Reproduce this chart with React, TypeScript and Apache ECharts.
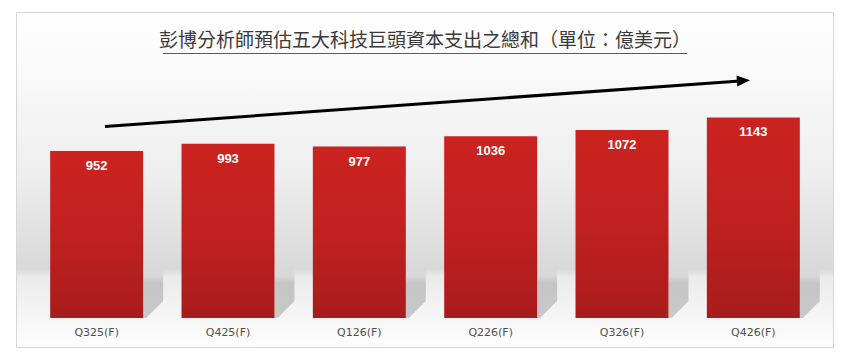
import React, { useEffect, useRef } from "react";
import * as echarts from "echarts";

const TITLE = "彭博分析師預估五大科技巨頭資本支出之總和（單位：億美元）";
const categories = ["Q325(F)", "Q425(F)", "Q126(F)", "Q226(F)", "Q326(F)", "Q426(F)"];
const capexValues = [952, 993, 977, 1036, 1072, 1143];
const yMin = 0;
const yMax = 1200;

export default function App() {
  const ref = useRef<HTMLDivElement>(null);
  useEffect(() => {
    if (!ref.current) return;
    const chart = echarts.init(ref.current, null, { renderer: "svg" });
    const barRatio = 93 / 131.4;
    const option: any = {
      animation: false,
      backgroundColor: "#ffffff",
      grid: { left: 31, right: 31, top: 107.5, bottom: 40 },
      xAxis: {
        type: "category",
        data: categories,
        axisLine: { show: false },
        axisTick: { show: false },
        axisLabel: {
          color: "#505050",
          fontFamily: "DejaVu Sans",
          fontSize: 11,
          margin: 9,
        },
      },
      yAxis: {
        type: "value",
        min: yMin,
        max: yMax,
        show: false,
        splitLine: { show: false },
      },
      graphic: [
        {
          type: "rect",
          z: -10,
          silent: true,
          shape: { x: 16.5, y: 12.5, width: 817, height: 335 },
          style: {
            stroke: "#d6d6d6",
            lineWidth: 1,
            fill: new echarts.graphic.LinearGradient(0, 0, 0, 1, [
              { offset: 0, color: "#ffffff" },
              { offset: 0.12, color: "#fbfbfb" },
              { offset: 0.5, color: "#ededed" },
              { offset: 0.765, color: "#d9d9d9" },
              { offset: 0.79, color: "#ebebeb" },
              { offset: 0.91, color: "#f6f6f6" },
              { offset: 1, color: "#fdfdfd" },
            ]),
          },
        },
        {
          type: "text",
          left: "center",
          top: 29,
          style: {
            text: TITLE,
            fontFamily: "Noto Sans CJK TC",
            fontSize: 19,
            fill: "#3a3a3a",
          },
        },
        {
          type: "line",
          silent: true,
          shape: { x1: 163, y1: 53.5, x2: 687, y2: 53.5 },
          style: { stroke: "#5a5a5a", lineWidth: 1 },
        },
        {
          type: "line",
          silent: true,
          z: 20,
          shape: { x1: 105, y1: 126.5, x2: 740, y2: 81 },
          style: { stroke: "#000000", lineWidth: 3 },
        },
        {
          type: "polygon",
          silent: true,
          z: 20,
          shape: { points: [[750, 80.3], [736.5, 75.5], [737.3, 86.5]] },
          style: { fill: "#000000" },
        },
      ],
      series: [
        {
          type: "custom",
          z: 1,
          silent: true,
          data: capexValues.map((v, i) => [i, v]),
          renderItem: (params: any, api: any) => {
            const idx = api.value(0);
            const base = api.coord([idx, 0]);
            const band = api.size([1, 0])[0];
            const bw = band * barRatio;
            const xr = base[0] + bw / 2;
            const y0 = base[1];
            return {
              type: "polygon",
              shape: {
                points: [
                  [xr, y0 - 50],
                  [xr + 20, y0 - 50],
                  [xr + 20, y0 - 17],
                  [xr + 3, y0],
                  [xr, y0],
                ],
              },
              style: {
                fill: new echarts.graphic.LinearGradient(0, 0, 0, 1, [
                  { offset: 0, color: "rgba(200,200,200,0)" },
                  { offset: 0.3, color: "#c5c5c5" },
                  { offset: 1, color: "#c8c8c8" },
                ]),
              },
            };
          },
        },
        {
          type: "bar",
          z: 5,
          data: capexValues,
          barWidth: "70.8%",
          itemStyle: {
            color: new echarts.graphic.LinearGradient(0, 0, 0, 1, [
              { offset: 0, color: "#cb2320" },
              { offset: 0.5, color: "#c0211f" },
              { offset: 1, color: "#a81c1c" },
            ]),
          },
          label: {
            show: true,
            position: "insideTop",
            distance: 8,
            color: "#ffffff",
            fontFamily: "Liberation Sans",
            fontWeight: "bold",
            fontSize: 13,
          },
        },
      ],
    };
    chart.setOption(option);
    return () => chart.dispose();
  }, []);
  return (
    <div
      ref={ref}
      style={{ position: "fixed", left: 0, top: 0, width: 850, height: 358 }}
    />
  );
}
